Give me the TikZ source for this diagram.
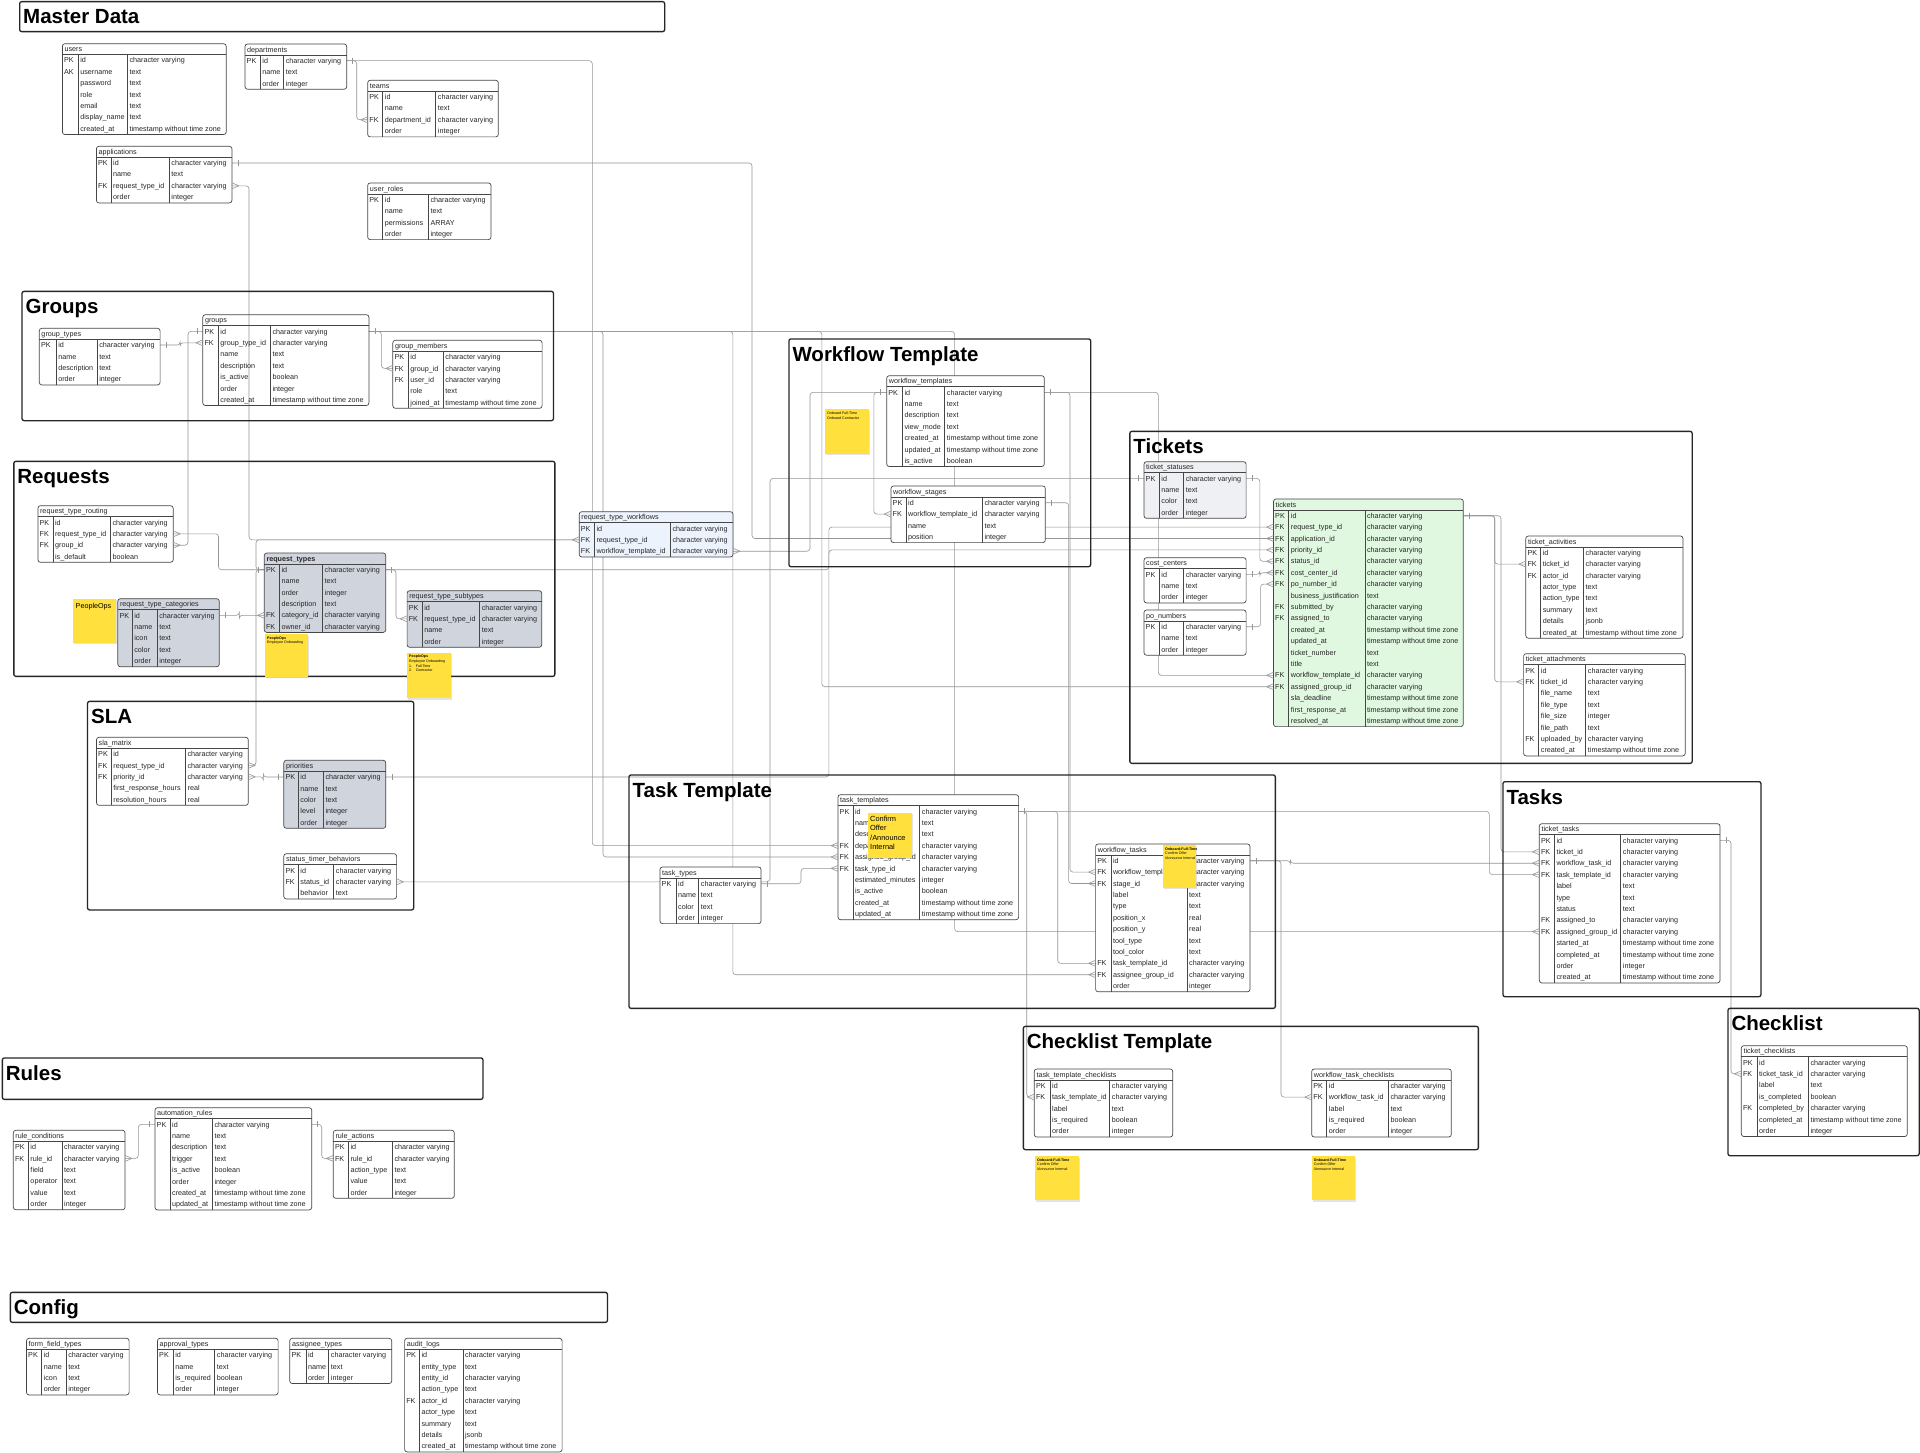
\documentclass[tikz,border=0pt]{standalone}
\usepackage{fontspec}
\setmainfont{Liberation Sans}
\usetikzlibrary{shadows}
\pgfdeclarelayer{bg}
\pgfsetlayers{bg,main}
\definecolor{connc}{RGB}{150,150,150}
\definecolor{tblc}{RGB}{70,70,70}
\definecolor{grayfill}{RGB}{207,212,221}
\definecolor{statfill}{RGB}{238,240,243}
\definecolor{greenfill}{RGB}{224,247,224}
\definecolor{bluefill}{RGB}{236,243,253}
\definecolor{stickyc}{RGB}{255,224,61}
\def\cv{character varying}
\def\tsz{timestamp without time zone}
\tikzset{
 tbl/.style={draw=tblc, line width=0.7pt, rounded corners=2.5pt, inner sep=0pt, outer sep=0pt, anchor=north west},
 tline/.style={draw=tblc, line width=0.6pt},
 rowtxt/.style={inner sep=0pt, anchor=base west, font=\fontsize{7.2}{8}\selectfont, text=black!85},
 conn/.style={draw=connc, line width=0.6pt, rounded corners=3pt},
 erm/.style={draw=connc, line width=0.6pt},
 sect/.style={draw=black!85, line width=1.3pt, rounded corners=2pt, inner sep=0pt, anchor=north west},
 secttitle/.style={inner sep=0pt, anchor=base west, font=\fontsize{20.5}{22}\selectfont\bfseries},
 sticky/.style={fill=stickyc, inner sep=0pt, anchor=north west, drop shadow={opacity=0.22, shadow xshift=1pt, shadow yshift=-1.5pt}},
 stxt/.style={inner sep=0pt, anchor=north west, align=left, font=\fontsize{3.6}{4.6}\selectfont},
}
% table: id, title, x, y, w1, w2, w3, fill, rows
\newcommand{\ertable}[9]{%
  \foreach \rK/\rN/\rT [count=\i] in {#9} {\xdef\nrows{\i}}%
  \pgfmathsetmacro{\W}{#5+#6+#7}%
  \pgfmathsetmacro{\H}{11+\nrows*11.4}%
  \node[tbl, fill=#8, minimum width=\W pt, minimum height=\H pt] (#1) at (#3,#4) {};
  \draw[tline] (#3,{#4+11}) -- ++(\W,0);
  \draw[tline] ({#3+#5},{#4+11}) -- ({#3+#5},{#4+\H});
  \draw[tline] ({#3+#5+#6},{#4+11}) -- ({#3+#5+#6},{#4+\H});
  \node[rowtxt] (#1-title) at ({#3+2},{#4+8.2}) {#2};
  \foreach \rK/\rN/\rT [count=\i] in {#9} {
    \pgfmathsetmacro{\yy}{#4+11+(\i-0.5)*11.4}
    \node[rowtxt] (#1-k\i) at ({#3+1.5},{\yy+2.6}) {\rK};
    \node[rowtxt] (#1-n\i) at ({#3+#5+2},{\yy+2.6}) {\rN};
    \node[rowtxt] (#1-t\i) at ({#3+#5+#6+2},{\yy+2.6}) {\rT};
    \coordinate (#1-\i-l) at (#3,\yy);
    \coordinate (#1-\i-r) at ({#3+\W},\yy);
  }
}
\newcommand{\sect}[6]{%
  \pgfmathsetmacro{\SW}{#4-#2}\pgfmathsetmacro{\SH}{#5-#3}%
  \node[sect, minimum width=\SW pt, minimum height=\SH pt] (#1) at (#2,#3) {};
  \node[secttitle] (#1-t) at ({#2+4},{#3+23}) {#6};
}
% crow's feet and ticks
\newcommand{\cfL}[1]{\draw[erm] ([xshift=-7pt]#1) -- ([yshift=3pt]#1) ([xshift=-7pt]#1) -- ([yshift=-3pt]#1);}
\newcommand{\cfR}[1]{\draw[erm] ([xshift=7pt]#1) -- ([yshift=3pt]#1) ([xshift=7pt]#1) -- ([yshift=-3pt]#1);}
\newcommand{\tkL}[1]{\draw[erm] ([xshift=-6pt,yshift=3pt]#1) -- ([xshift=-6pt,yshift=-3pt]#1);}
\newcommand{\tkR}[1]{\draw[erm] ([xshift=6pt,yshift=3pt]#1) -- ([xshift=6pt,yshift=-3pt]#1);}
\begin{document}
\begin{tikzpicture}[x=1pt,y=-1pt]
\useasboundingbox (0,0) rectangle (1920,1453);
\begin{pgfonlayer}{bg}
\fill[white] (0,0) rectangle (1920,1453);
\end{pgfonlayer}

% ---------------- sections
\sect{sMaster}{19}{1}{664}{31}{Master Data}
\sect{sGroups}{21.4}{290.7}{552.8}{420}{Groups}
\sect{sReq}{13.2}{460.7}{554.2}{675.7}{Requests}
\sect{sSLA}{86.9}{700.7}{413}{909.3}{SLA}
\sect{sWT}{788.3}{338.3}{1090}{566}{Workflow Template}
\sect{sTix}{1129.2}{430.7}{1691.5}{762.7}{Tickets}
\sect{sTT}{628.4}{774.3}{1274.7}{1007.7}{Task Template}
\sect{sTasks}{1502.3}{781}{1760.3}{996}{Tasks}
\sect{sCL}{1727.3}{1007.7}{1918.5}{1155}{Checklist}
\sect{sCT}{1022.7}{1025.7}{1477.7}{1149}{Checklist Template}
\sect{sRules}{1.7}{1057.3}{482.3}{1098.7}{Rules}
\sect{sConfig}{9.7}{1291.7}{606.8}{1321.7}{Config}

% ---------------- tables
\ertable{users}{users}{62.4}{43.7}{15.7}{49.3}{98.8}{white}{PK/id/\cv, AK/username/text, {}/password/text, {}/role/text, {}/email/text, {}/display\_name/text, {}/created\_at/\tsz}
\ertable{depts}{departments}{245}{44}{15.2}{23.4}{63.1}{white}{PK/id/\cv, {}/name/text, {}/order/integer}
\ertable{teams}{teams}{367.7}{80.3}{15}{53}{62.6}{white}{PK/id/\cv, {}/name/text, FK/department\_id/\cv, {}/order/integer}
\ertable{apps}{applications}{96.4}{146.3}{14.6}{58.2}{62.7}{white}{PK/id/\cv, {}/name/text, FK/request\_type\_id/\cv, {}/order/integer}
\ertable{uroles}{user\_roles}{367.7}{183}{15}{45.6}{62.7}{white}{PK/id/\cv, {}/name/text, {}/permissions/ARRAY, {}/order/integer}

\ertable{gtypes}{group\_types}{39.3}{328.3}{16.8}{41}{63}{white}{PK/id/\cv, {}/name/text, {}/description/text, {}/order/integer}
\ertable{groups}{groups}{202.8}{314.7}{15.4}{52.1}{98.6}{none}{PK/id/\cv, FK/group\_type\_id/\cv, {}/name/text, {}/description/text, {}/is\_active/boolean, {}/order/integer, {}/created\_at/\tsz}
\ertable{gmem}{group\_members}{392.8}{340.3}{15.4}{35}{98.9}{white}{PK/id/\cv, FK/group\_id/\cv, FK/user\_id/\cv, {}/role/text, {}/joined\_at/\tsz}

\ertable{rtr}{request\_type\_routing}{37.9}{505.7}{15}{57.4}{62.9}{white}{PK/id/\cv, FK/request\_type\_id/\cv, FK/group\_id/\cv, {}/is\_default/boolean}
\ertable{rtypes}{\bfseries request\_types}{264.3}{553}{15}{43.2}{63.2}{grayfill}{PK/id/\cv, {}/name/text, {}/order/integer, {}/description/text, FK/category\_id/\cv, FK/owner\_id/\cv}
\ertable{rtcat}{request\_type\_categories}{117.8}{598.7}{14.3}{25}{62.2}{grayfill}{PK/id/\cv, {}/name/text, {}/icon/text, {}/color/text, {}/order/integer}
\ertable{rtsub}{request\_type\_subtypes}{407.1}{590.7}{15}{57.5}{62.1}{grayfill}{PK/id/\cv, FK/request\_type\_id/\cv, {}/name/text, {}/order/integer}

\ertable{sla}{sla\_matrix}{96.5}{737.3}{14.7}{74.2}{62.9}{white}{PK/id/\cv, FK/request\_type\_id/\cv, FK/priority\_id/\cv, {}/first\_response\_hours/real, {}/resolution\_hours/real}
\ertable{prio}{priorities}{283.8}{760.3}{14.4}{25.1}{62.5}{grayfill}{PK/id/\cv, {}/name/text, {}/color/text, {}/level/integer, {}/order/integer}
\ertable{stb}{status\_timer\_behaviors}{283.8}{853.7}{14.4}{35.5}{62.9}{white}{PK/id/\cv, FK/status\_id/\cv, {}/behavior/text}

\ertable{rtw}{request\_type\_workflows}{579.2}{511.7}{15.1}{76}{62.7}{bluefill}{PK/id/\cv, FK/request\_type\_id/\cv, FK/workflow\_template\_id/\cv}

\ertable{wft}{workflow\_templates}{886.7}{375.7}{15.6}{42.4}{99.6}{white}{PK/id/\cv, {}/name/text, {}/description/text, {}/view\_mode/text, {}/created\_at/\tsz, {}/updated\_at/\tsz, {}/is\_active/boolean}
\ertable{wfs}{workflow\_stages}{891}{486}{15}{76.3}{63}{white}{PK/id/\cv, FK/workflow\_template\_id/\cv, {}/name/text, {}/position/integer}

\ertable{tstat}{ticket\_statuses}{1144}{461.7}{15.2}{24.4}{62.5}{statfill}{PK/id/\cv, {}/name/text, {}/color/text, {}/order/integer}
\ertable{cc}{cost\_centers}{1144}{557.7}{15.2}{24.4}{62.5}{white}{PK/id/\cv, {}/name/text, {}/order/integer}
\ertable{po}{po\_numbers}{1144}{610}{15.2}{24.4}{62.5}{white}{PK/id/\cv, {}/name/text, {}/order/integer}
\ertable{tix}{tickets}{1273.5}{499}{15.2}{76.2}{98.4}{greenfill}{PK/id/\cv, FK/request\_type\_id/\cv, FK/application\_id/\cv, FK/priority\_id/\cv, FK/status\_id/\cv, FK/cost\_center\_id/\cv, FK/po\_number\_id/\cv, {}/business\_justification/text, FK/submitted\_by/\cv, FK/assigned\_to/\cv, {}/created\_at/\tsz, {}/updated\_at/\tsz, {}/ticket\_number/text, {}/title/text, FK/workflow\_template\_id/\cv, FK/assigned\_group\_id/\cv, {}/sla\_deadline/\tsz, {}/first\_response\_at/\tsz, {}/resolved\_at/\tsz}
\ertable{tact}{ticket\_activities}{1525.8}{536}{14.8}{42.9}{99.5}{white}{PK/id/\cv, FK/ticket\_id/\cv, FK/actor\_id/\cv, {}/actor\_type/text, {}/action\_type/text, {}/summary/text, {}/details/jsonb, {}/created\_at/\tsz}
\ertable{tatt}{ticket\_attachments}{1523.6}{653.7}{15.1}{47}{99.5}{white}{PK/id/\cv, FK/ticket\_id/\cv, {}/file\_name/text, {}/file\_type/text, {}/file\_size/integer, {}/file\_path/text, FK/uploaded\_by/\cv, {}/created\_at/\tsz}

\ertable{ttypes}{task\_types}{660}{867}{16}{22.7}{62.3}{white}{PK/id/\cv, {}/name/text, {}/color/text, {}/order/integer}
\ertable{ttpl}{task\_templates}{838}{794.7}{14.8}{66.9}{98.9}{white}{PK/id/\cv, {}/name/text, {}/description/text, FK/department\_id/\cv, FK/assignee\_group\_id/\cv, FK/task\_type\_id/\cv, {}/estimated\_minutes/integer, {}/is\_active/boolean, {}/created\_at/\tsz, {}/updated\_at/\tsz}
\ertable{wtask}{workflow\_tasks}{1095.6}{844}{15.2}{76.2}{63}{white}{PK/id/\cv, FK/workflow\_template\_id/\cv, FK/stage\_id/\cv, {}/label/text, {}/type/text, {}/position\_x/real, {}/position\_y/real, {}/tool\_type/text, {}/tool\_color/text, FK/task\_template\_id/\cv, FK/assignee\_group\_id/\cv, {}/order/integer}

\ertable{ttask}{ticket\_tasks}{1539.3}{823.7}{15}{66.4}{99.3}{white}{PK/id/\cv, FK/ticket\_id/\cv, FK/workflow\_task\_id/\cv, FK/task\_template\_id/\cv, {}/label/text, {}/type/text, {}/status/text, FK/assigned\_to/\cv, FK/assigned\_group\_id/\cv, {}/started\_at/\tsz, {}/completed\_at/\tsz, {}/order/integer, {}/created\_at/\tsz}
\ertable{tcl}{ticket\_checklists}{1741.3}{1045.7}{15.7}{51.3}{99}{white}{PK/id/\cv, FK/ticket\_task\_id/\cv, {}/label/text, {}/is\_completed/boolean, FK/completed\_by/\cv, {}/completed\_at/\tsz, {}/order/integer}
\ertable{ttc}{task\_template\_checklists}{1034.3}{1069}{15.7}{59.7}{63}{white}{PK/id/\cv, FK/task\_template\_id/\cv, {}/label/text, {}/is\_required/boolean, {}/order/integer}
\ertable{wtc}{workflow\_task\_checklists}{1311.7}{1069}{15}{61.6}{63}{white}{PK/id/\cv, FK/workflow\_task\_id/\cv, {}/label/text, {}/is\_required/boolean, {}/order/integer}

\ertable{rcond}{rule\_conditions}{13.3}{1130.3}{15}{33.7}{63}{white}{PK/id/\cv, FK/rule\_id/\cv, {}/field/text, {}/operator/text, {}/value/text, {}/order/integer}
\ertable{arules}{automation\_rules}{155}{1107.7}{15}{42.3}{99.4}{white}{PK/id/\cv, {}/name/text, {}/description/text, {}/trigger/text, {}/is\_active/boolean, {}/order/integer, {}/created\_at/\tsz, {}/updated\_at/\tsz}
\ertable{ract}{rule\_actions}{333.3}{1130.3}{15}{44}{62}{white}{PK/id/\cv, FK/rule\_id/\cv, {}/action\_type/text, {}/value/text, {}/order/integer}

\ertable{fft}{form\_field\_types}{26.5}{1338.3}{15.1}{24.5}{63}{white}{PK/id/\cv, {}/name/text, {}/icon/text, {}/order/integer}
\ertable{appt}{approval\_types}{157.5}{1338.3}{15.6}{41.6}{63.4}{white}{PK/id/\cv, {}/name/text, {}/is\_required/boolean, {}/order/integer}
\ertable{asst}{assignee\_types}{289.8}{1338.3}{16}{22.9}{63}{white}{PK/id/\cv, {}/name/text, {}/order/integer}
\ertable{audit}{audit\_logs}{404.6}{1338.3}{14.7}{43.6}{99.2}{white}{PK/id/\cv, {}/entity\_type/text, {}/entity\_id/\cv, {}/action\_type/text, FK/actor\_id/\cv, {}/actor\_type/text, {}/summary/text, {}/details/jsonb, {}/created\_at/\tsz}

% ---------------- connectors (behind tables)
\begin{pgfonlayer}{bg}
\draw[conn] (depts-1-r) -- ++(10,0) |- (teams-3-l);
\draw[conn] (depts-1-r) -| ([xshift=-245.7pt]ttpl-4-l) -- (ttpl-4-l);
\draw[conn] (apps-1-r) -| ([xshift=-521.5pt]tix-3-l) -- (tix-3-l);
\draw[conn] (apps-3-r) -- ++(17.1,0) |- (rtw-2-l);
\draw[conn] (rtypes-1-l) -- ++(-8.3,0) |- (sla-2-r);
\draw[conn] (rtypes-1-l) -- ++(-8.3,0) |- (rtw-2-l);
\draw[conn] (gtypes-1-r) -- ++(20,0) |- (groups-2-l);
\draw[conn] (groups-1-r) -- ++(12.5,0) |- (gmem-2-l);
\draw[conn] (groups-1-r) -| ([xshift=-235pt]ttpl-5-l) -- (ttpl-5-l);
\draw[conn] (groups-1-r) -| ([xshift=-362.8pt]wtask-11-l) -- (wtask-11-l);
\draw[conn] (groups-1-r) -| ([xshift=-451.7pt]tix-16-l) -- (tix-16-l);
\draw[conn] (groups-1-r) -| ([xshift=-584.7pt]ttask-9-l) -- (ttask-9-l);
\draw[conn] (groups-1-l) -- ++(-14.8,0) |- (rtr-3-r);
\draw[conn] (rtr-2-r) -- ++(45.3,0) |- (rtypes-1-l);
\draw[conn] (rtcat-1-r) -- ++(20,0) |- (rtypes-5-l);
\draw[conn] (rtypes-1-r) -- ++(10.3,0) |- (rtsub-2-l);
\draw[conn] (rtypes-1-r) -| ([xshift=-444.6pt]tix-2-l) -- (tix-2-l);
\draw[conn] (prio-1-r) -| ([xshift=-444.6pt]tix-4-l) -- (tix-4-l);
\draw[conn] (stb-2-r) -| ([xshift=-374pt]tstat-1-l) -- (tstat-1-l);
\draw[conn] (ttypes-1-r) -- ++(40,0) |- (ttpl-6-l);
\draw[conn] (ttpl-1-r) -- ++(39.1,0) |- (wtask-10-l);
\draw[conn] (ttpl-1-r) -- ++(8.1,0) |- (ttc-2-l);
\draw[conn] (ttpl-1-r) -| ([xshift=-50pt]ttask-4-l) -- (ttask-4-l);
\draw[conn] (wft-1-l) -- ++(-12.9,0) |- (wfs-2-l);
\draw[conn] (wft-1-l) -- ++(-76.7,0) |- (rtw-3-r);
\draw[conn] (wft-1-r) -| ([xshift=-25.6pt]wtask-2-l) -- (wtask-2-l);
\draw[conn] (wft-1-r) -| ([xshift=-115.2pt]tix-15-l) -- (tix-15-l);
\draw[conn] (wfs-1-r) -| ([xshift=-27pt]wtask-3-l) -- (wtask-3-l);
\draw[conn] (wtask-1-r) -| ([xshift=-249pt]ttask-3-l) -- (ttask-3-l);
\draw[conn] (wtask-1-r) -| ([xshift=-30.7pt]wtc-2-l) -- (wtc-2-l);
\draw[conn] (tix-1-r) -- ++(31.4,0) |- (tact-2-l);
\draw[conn] (tix-1-r) -- ++(31.4,0) |- (tatt-2-l);
\draw[conn] (tix-1-r) -| ([xshift=-38.3pt]ttask-2-l) -- (ttask-2-l);
\draw[conn] (tstat-1-r) -- ++(13.7,0) |- (tix-5-l);
\draw[conn] (cc-1-r) -- ++(13.7,0) |- (tix-6-l);
\draw[conn] (po-1-r) -- ++(14.5,0) |- (tix-7-l);
\draw[conn] (ttask-1-r) -- ++(11,0) |- (tcl-2-l);
\draw[conn] (arules-1-l) -- ++(-16.7,0) |- (rcond-2-r);
\draw[conn] (arules-1-r) -- ++(10,0) |- (ract-2-l);
\draw[conn] (sla-3-r) -- ++(15,0) |- (prio-1-l);
\end{pgfonlayer}

% ticks
\foreach \p in {depts-1-r, apps-1-r, rtypes-1-r, gtypes-1-r, groups-1-r, rtcat-1-r, prio-1-r, tstat-1-r, cc-1-r, po-1-r, ttypes-1-r, ttpl-1-r, wft-1-r, wfs-1-r, wtask-1-r, tix-1-r, ttask-1-r, arules-1-r} {\tkR{\p}}
\foreach \p in {rtypes-1-l, groups-1-l, prio-1-l, tstat-1-l, wft-1-l, arules-1-l} {\tkL{\p}}
% crow's feet
\foreach \p in {teams-3-l, ttpl-4-l, tix-3-l, rtw-2-l, groups-2-l, gmem-2-l, ttpl-5-l, wtask-11-l, tix-16-l, ttask-9-l, rtypes-5-l, rtsub-2-l, tix-2-l, tix-4-l, ttpl-6-l, wtask-10-l, ttc-2-l, ttask-4-l, wfs-2-l, wtask-2-l, tix-15-l, wtask-3-l, ttask-3-l, wtc-2-l, tact-2-l, tatt-2-l, ttask-2-l, tix-5-l, tix-6-l, tix-7-l, tcl-2-l, ract-2-l} {\cfL{\p}}
\foreach \p in {apps-3-r, sla-2-r, rtr-3-r, rtr-2-r, stb-2-r, rtw-3-r, rcond-2-r, sla-3-r} {\cfR{\p}}

% ---------------- sticky notes
\node[sticky, minimum width=42.8pt, minimum height=44pt] (stk1) at (73.2,598.3) {};
\node[inner sep=0pt, anchor=north west, font=\fontsize{7.2}{8}\selectfont] (stk1-t) at (75.5,603) {PeopleOps};
\node[sticky, minimum width=43.2pt, minimum height=42.7pt] (stk2) at (265,634) {};
\node[stxt] (stk2-t) at (267,636.5) {\textbf{PeopleOps}\\Employee Onboarding};
\node[sticky, minimum width=43.6pt, minimum height=45.3pt] (stk3) at (407,652.7) {};
\node[stxt] (stk3-t) at (409,655) {\textbf{PeopleOps}\\Employee Onboarding\\1.\quad Full Time\\2.\quad Contractor};
\node[sticky, minimum width=43.3pt, minimum height=44.3pt] (stk4) at (825,409) {};
\node[stxt] (stk4-t) at (827,412) {Onboard Full-Time\\Onboard Contractor};
\node[sticky, minimum width=44.2pt, minimum height=45pt] (stk5) at (867.5,812.3) {};
\node[inner sep=0pt, anchor=north west, align=left, font=\fontsize{7.4}{9.5}\selectfont] (stk5-t) at (870,815.5) {Confirm\\Offer\\/Announce\\Internal};
\node[sticky, minimum width=32.4pt, minimum height=42.7pt] (stk6) at (1163,845) {};
\node[stxt] (stk6-t) at (1165,847.5) {\textbf{Onboard-Full-Time}\\Confirm Offer\\/Announce Internal};
\node[sticky, minimum width=43.3pt, minimum height=44pt] (stk7) at (1035,1156) {};
\node[stxt] (stk7-t) at (1037,1158.5) {\textbf{Onboard-Full-Time}\\Confirm Offer\\/Announce Internal};
\node[sticky, minimum width=43.3pt, minimum height=44pt] (stk8) at (1311.7,1156) {};
\node[stxt] (stk8-t) at (1313.7,1158.5) {\textbf{Onboard-Full-Time}\\Confirm Offer\\/Announce Internal};
\end{tikzpicture}
\end{document}
